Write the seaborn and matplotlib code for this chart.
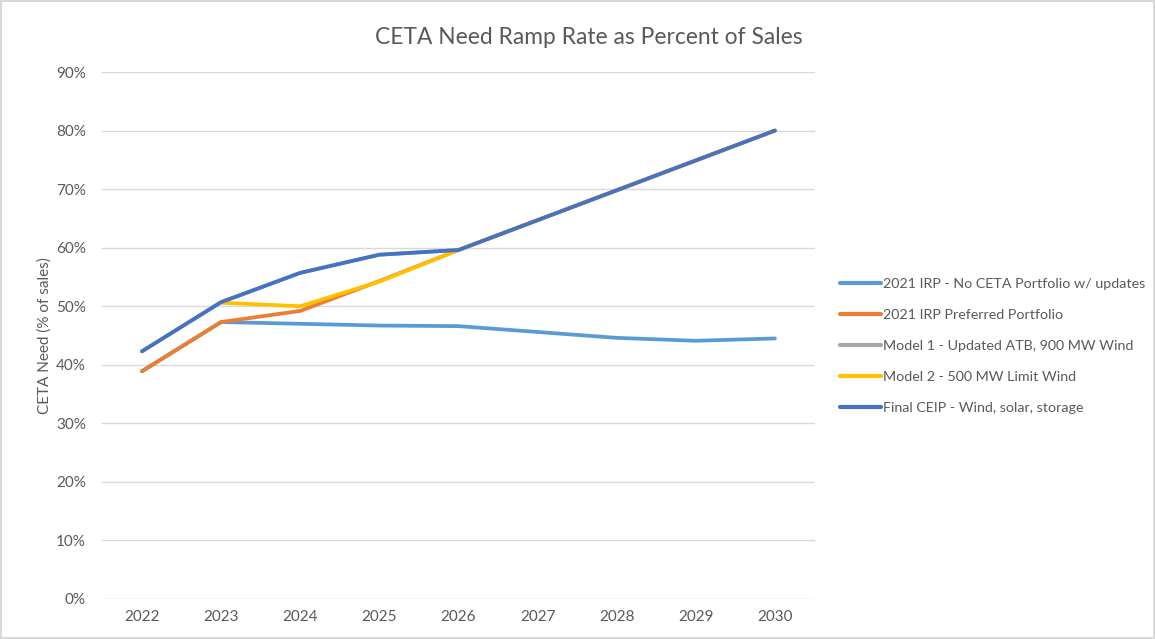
import numpy as np
import pandas as pd
import seaborn as sns
import matplotlib.pyplot as plt
from matplotlib.ticker import PercentFormatter

# values (percent of sales)
years = [2022, 2023, 2024, 2025, 2026, 2027, 2028, 2029, 2030]
no_ceta = [38.9, 47.3, 47.0, 46.7, 46.6, 45.6, 44.6, 44.1, 44.5]
preferred = [38.9, 47.3, 49.2, 54.3, 59.6, 64.7, 69.8, 74.9, 80.0]
model1 = [42.3, 50.7, 55.7, 58.8, 59.6, 64.7, 69.8, 74.9, 80.0]
model2 = [np.nan, 50.6, 50.0, 54.2, 59.6, 64.7, 69.8, 74.9, 80.0]
final_ceip = [42.3, 50.7, 55.7, 58.8, 59.6, 64.7, 69.8, 74.9, 80.0]

series_names = [
    "2021 IRP - No CETA Portfolio w/ updates",
    "2021 IRP Preferred Portfolio",
    "Model 1 - Updated ATB, 900 MW Wind",
    "Model 2 - 500 MW Limit Wind",
    "Final CEIP - Wind, solar, storage",
]
colors = ["#5B9BD5", "#ED7D31", "#A5A5A5", "#FFC000", "#4472C4"]

rows = []
for name, vals in zip(series_names, [no_ceta, preferred, model1, model2, final_ceip]):
    for yr, v in zip(years, vals):
        rows.append({"year": yr, "value": v / 100, "series": name})
df = pd.DataFrame(rows).dropna()

sns.set_style("white")
plt.rcParams["font.family"] = ["Lato", "DejaVu Sans"]
plt.rcParams["lines.solid_capstyle"] = "round"
plt.rcParams["lines.solid_joinstyle"] = "round"

text_col = "#595959"
fig = plt.figure(figsize=(11.55, 6.39), dpi=100)
fig.patch.set_edgecolor("#d9d9d9")
fig.patch.set_linewidth(1.5)
ax = fig.add_axes([0.0887, 0.0626, 0.6165, 0.8247])

sns.lineplot(data=df, x="year", y="value", hue="series", hue_order=series_names,
             palette=colors, linewidth=2.7, ax=ax, legend=True)

ax.set_xlim(2021.5, 2030.5)
ax.set_ylim(0, 0.9)
ax.set_xticks(years)
ax.set_yticks(np.arange(0, 0.91, 0.1))
ax.yaxis.set_major_formatter(PercentFormatter(1.0, decimals=0))
ax.grid(axis="y", color="#d9d9d9", linewidth=1)
ax.set_axisbelow(True)
for s in ax.spines.values():
    s.set_visible(False)
ax.tick_params(axis="both", length=0, labelsize=11, labelcolor=text_col)
ax.tick_params(axis="y", pad=12)
ax.tick_params(axis="x", pad=8)
ax.set_xlabel("")
ax.set_ylabel("CETA Need (% of sales)", fontsize=11, color=text_col, labelpad=3)

fig.text(0.51, 0.942, "CETA Need Ramp Rate as Percent of Sales",
         ha="center", va="center", fontsize=16.4, color=text_col)

handles, labels = ax.get_legend_handles_labels()
leg = ax.legend(handles, labels, loc="center left", bbox_to_anchor=(0.716, 0.458),
                bbox_transform=fig.transFigure, frameon=False, fontsize=10.3,
                labelspacing=1.33, handlelength=2.9, handletextpad=0.15)
for t in leg.get_texts():
    t.set_color(text_col)
for l in leg.get_lines():
    l.set_linewidth(3)

fig.savefig("out.png", dpi=100, edgecolor=fig.get_edgecolor())
